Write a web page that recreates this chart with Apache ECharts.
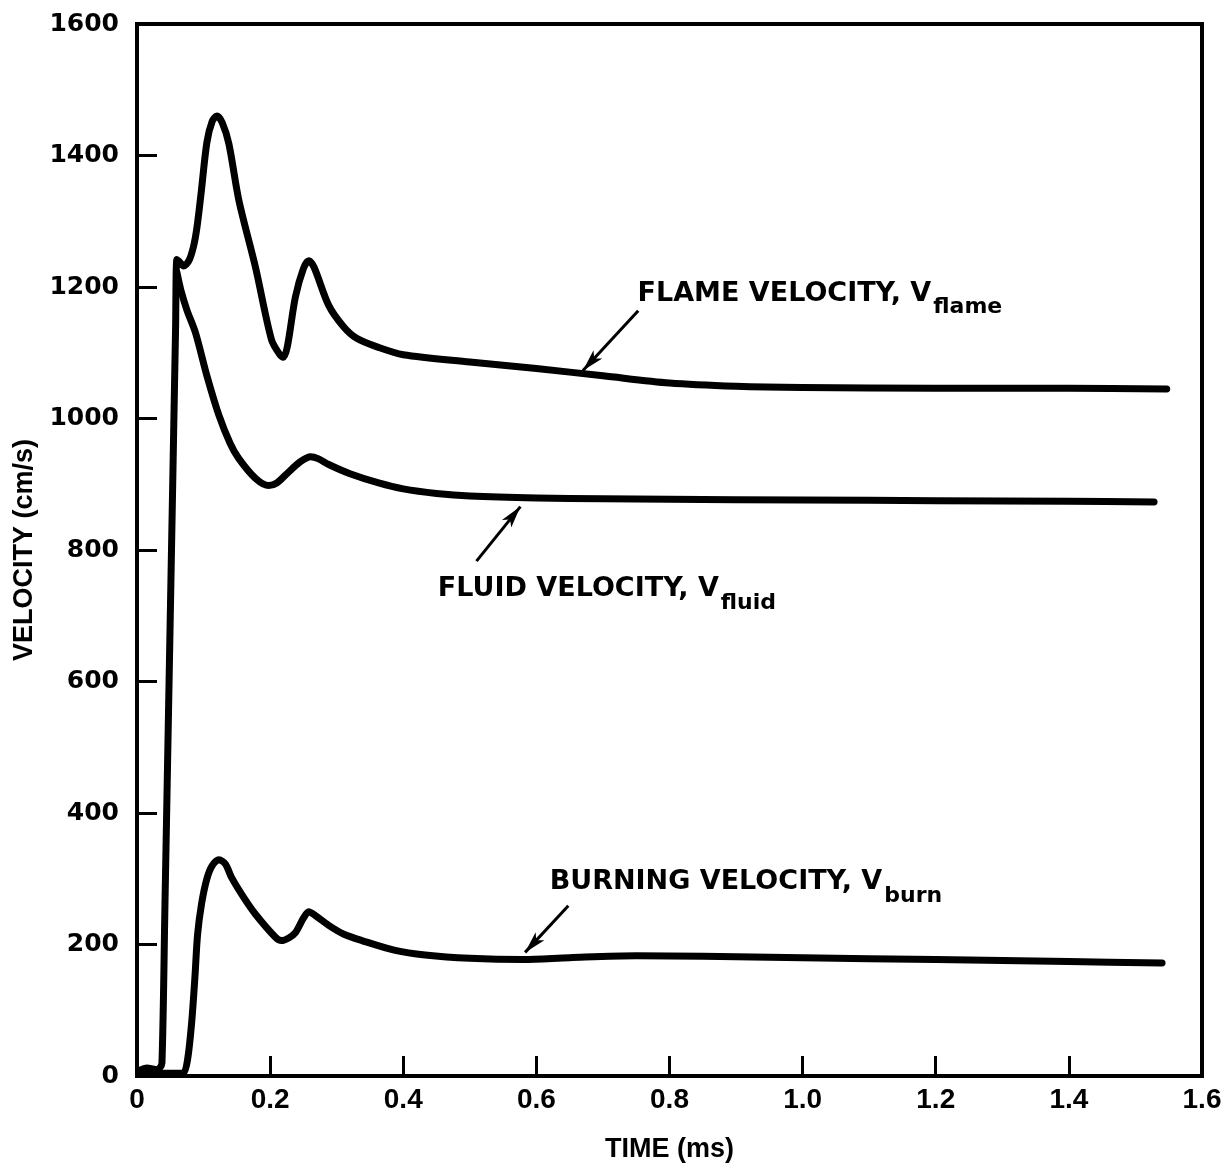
<!DOCTYPE html>
<html>
<head>
<meta charset="utf-8">
<script src="https://cdn.jsdelivr.net/npm/echarts@6/dist/echarts.min.js"></script>
<style>
  html, body { margin: 0; padding: 0; background: #fff; }
  #chart { width: 1226px; height: 1168px; }
</style>
</head>
<body>
<div id="chart"></div>
<script>
// values (time in ms, velocity in cm/s)
var flameTime = [0.003, 0.015, 0.028, 0.034, 0.0375, 0.042, 0.048, 0.054, 0.058, 0.060, 0.064, 0.070, 0.078, 0.085,
    0.090, 0.096, 0.105, 0.113, 0.120, 0.128, 0.138, 0.153, 0.178, 0.202, 0.214, 0.220, 0.226, 0.238, 0.250, 0.258,
    0.266, 0.288, 0.310, 0.330, 0.363, 0.40, 0.50, 0.60, 0.70, 0.80, 0.90, 1.0, 1.2, 1.4, 1.547];
var flameVel = [8, 12, 10, 12, 20, 260, 590, 920, 1140, 1242, 1238, 1232, 1240, 1262,
    1290, 1340, 1420, 1452, 1460, 1450, 1418, 1332, 1230, 1120, 1098, 1093, 1110, 1185, 1228, 1240,
    1230, 1172, 1140, 1122, 1108, 1097, 1086, 1076, 1065, 1054, 1049, 1047, 1046, 1046, 1045];

var fluidTime = [0.060, 0.066, 0.075, 0.088, 0.105, 0.123, 0.140, 0.153, 0.178, 0.198, 0.210, 0.223, 0.245, 0.261,
    0.272, 0.288, 0.320, 0.363, 0.40, 0.45, 0.50, 0.60, 0.70, 0.80, 1.0, 1.2, 1.4, 1.528];
var fluidVel = [1222, 1195, 1165, 1130, 1065, 1005, 962, 939, 909, 898, 902, 914, 934, 942,
    939, 930, 916, 902, 893, 886, 882, 879, 878, 877, 876, 875, 874, 873];

var burnTime = [0.005, 0.030, 0.060, 0.070, 0.076, 0.082, 0.087, 0.091, 0.097, 0.105, 0.113, 0.123, 0.133, 0.142,
    0.160, 0.178, 0.208, 0.217, 0.228, 0.238, 0.250, 0.258, 0.268, 0.288, 0.310, 0.338, 0.388, 0.433, 0.50,
    0.58, 0.65, 0.75, 0.85, 1.0, 1.2, 1.4, 1.54];
var burnVel = [5, 4, 4, 5, 25, 80, 150, 215, 262, 300, 320, 329, 322, 302,
    272, 246, 211, 206, 210, 218, 240, 250, 244, 229, 216, 206, 191, 184, 179,
    177, 180, 183, 182, 180, 177, 174, 172];

var xTicks = [0, 0.2, 0.4, 0.6, 0.8, 1.0, 1.2, 1.4, 1.6];
var yTicks = [0, 200, 400, 600, 800, 1000, 1200, 1400, 1600];

// annotations: text, subscript, anchor (time, velocity)
var labelNames = ['FLAME VELOCITY, V', 'FLUID VELOCITY, V', 'BURNING VELOCITY, V'];
var labelSubs = ['flame', 'fluid', 'burn'];
var labelAt = [[0.752, 1190], [0.452, 740], [0.620, 295]];
// arrows: from -> to
var arrowFrom = [[0.753, 1164], [0.510, 783], [0.648, 259]];
var arrowTo = [[0.670, 1073], [0.576, 866], [0.583, 188]];

function pairs(xs, ys) {
    var out = [];
    for (var i = 0; i < xs.length; i++) out.push([xs[i], ys[i]]);
    return out;
}

var myChart = echarts.init(document.getElementById('chart'));

var labelRich = {
    m: { fontFamily: 'DejaVu Sans', fontWeight: 'bold', fontSize: 27, color: '#000' },
    s: { fontFamily: 'DejaVu Sans', fontWeight: 'bold', fontSize: 22, color: '#000', padding: [28, 0, 0, 2] }
};

function annot(i) {
    return {
        markPoint: {
            symbolSize: 0,
            silent: true,
            label: {
                show: true,
                position: 'right',
                distance: 0,
                formatter: '{m|' + labelNames[i] + '}{s|' + labelSubs[i] + '}',
                rich: labelRich
            },
            data: [{ coord: labelAt[i] }]
        },
        markLine: {
            silent: true,
            symbol: ['none', 'arrow'],
            symbolSize: [9, 22],
            label: { show: false },
            lineStyle: { color: '#000', width: 3, type: 'solid' },
            data: [[{ coord: arrowFrom[i] }, { coord: arrowTo[i] }]]
        }
    };
}

var lineStyle = { color: '#000', width: 7, cap: 'round', join: 'round' };

function makeSeries(name, data, i) {
    var s = {
        name: name,
        type: 'line',
        data: data,
        showSymbol: false,
        symbol: 'none',
        smooth: 0.3,
        lineStyle: lineStyle
    };
    var a = annot(i);
    s.markPoint = a.markPoint;
    s.markLine = a.markLine;
    return s;
}

var option = {
    backgroundColor: '#fff',
    animation: false,
    grid: {
        left: 137, right: 24, top: 24, bottom: 89,
        show: true, borderColor: '#000', borderWidth: 4
    },
    xAxis: {
        type: 'value',
        min: 0, max: 1.6, interval: 0.2,
        name: 'TIME (ms)',
        nameLocation: 'middle',
        nameGap: 60,
        nameTextStyle: { fontFamily: 'Liberation Sans', fontWeight: 'bold', fontSize: 27, color: '#000' },
        axisLine: { show: true, lineStyle: { color: '#000', width: 4 } },
        axisTick: { show: true, inside: true, length: 20, lineStyle: { color: '#000', width: 3 } },
        splitLine: { show: false },
        axisLabel: {
            margin: 10,
            fontFamily: 'Liberation Sans', fontWeight: 'bold', fontSize: 28, color: '#000',
            formatter: function (v) { return v === 0 ? '0' : v.toFixed(1); }
        }
    },
    yAxis: {
        type: 'value',
        min: 0, max: 1600, interval: 200,
        name: 'VELOCITY (cm/s)',
        nameLocation: 'middle',
        nameGap: 96,
        nameTextStyle: { fontFamily: 'Liberation Sans', fontWeight: 'bold', fontSize: 27, color: '#000' },
        axisLine: { show: true, lineStyle: { color: '#000', width: 4 } },
        axisTick: { show: true, inside: true, length: 20, lineStyle: { color: '#000', width: 3 } },
        splitLine: { show: false },
        axisLabel: {
            margin: 18,
            fontFamily: 'DejaVu Sans', fontWeight: 'bold', fontSize: 25, color: '#000',
            formatter: function (v) { return String(v); }
        }
    },
    series: [
        makeSeries('flame', pairs(flameTime, flameVel), 0),
        makeSeries('fluid', pairs(fluidTime, fluidVel), 1),
        makeSeries('burn', pairs(burnTime, burnVel), 2)
    ]
};

myChart.setOption(option);
</script>
</body>
</html>
